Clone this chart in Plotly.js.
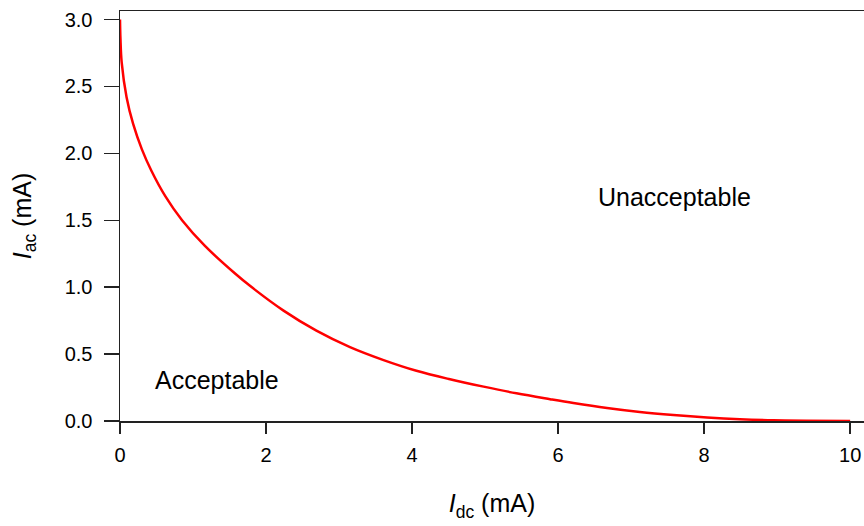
<!DOCTYPE html>
<html>
<head>
<meta charset="utf-8">
<script src="https://cdn.plot.ly/plotly-3.0.1.min.js"></script>
<style>html,body{margin:0;padding:0;background:#fff;}#chart{width:864px;height:526px;}</style>
</head>
<body>
<div id="chart"></div>
<script>
// Values
const idc = [0, 0.006, 0.023, 0.09, 0.18, 0.30, 0.43, 0.62, 0.85, 1.16, 1.58, 1.78, 2.24, 2.69, 3.15, 3.61, 4.06, 4.52, 4.98, 5.43, 5.89, 6.21, 6.67, 7.12, 7.58, 8.04, 8.49, 8.95, 9.40, 10];
const iac = [3.0, 2.86, 2.68, 2.42, 2.22, 2.03, 1.87, 1.68, 1.50, 1.31, 1.10, 1.01, 0.825, 0.675, 0.552, 0.455, 0.375, 0.312, 0.257, 0.207, 0.163, 0.134, 0.097, 0.067, 0.044, 0.026, 0.013, 0.005, 0.0015, 0.0];
const xTicks = [0, 2, 4, 6, 8, 10];
const yTicks = [0.0, 0.5, 1.0, 1.5, 2.0, 2.5, 3.0];
const regionLabels = ["Acceptable", "Unacceptable"];
const regionX = [1.33, 7.6];
const regionY = [0.307, 1.676];

const FONT = "Liberation Sans, Arial, sans-serif";
const trace = {
  x: idc, y: iac, type: "scatter", mode: "lines",
  line: {color: "#ff0000", width: 2.5, shape: "spline", smoothing: 1},
  hoverinfo: "skip", showlegend: false
};
const layout = {
  width: 864, height: 526,
  margin: {l: 120, r: 0, t: 11, b: 105, pad: 0},
  paper_bgcolor: "#fff", plot_bgcolor: "#fff",
  font: {family: FONT, color: "#000", size: 20},
  showlegend: false,
  xaxis: {
    range: [0, 10.19], tickvals: xTicks, ticktext: xTicks.map(String),
    ticks: "outside", ticklen: 11, tickwidth: 1.5, tickcolor: "#222",
    showline: true, linecolor: "#222", linewidth: 1.5, mirror: true,
    showgrid: false, zeroline: false, ticklabelstandoff: 4,
    tickfont: {family: FONT, size: 20, color: "#000"},
    title: {text: "<i>I</i><sub>dc</sub> (mA)", font: {family: FONT, size: 25, color: "#000"}, standoff: 30}
  },
  yaxis: {
    range: [0, 3.064], tickvals: yTicks, ticktext: yTicks.map(v => v.toFixed(1)),
    ticks: "outside", ticklen: 15, tickwidth: 1.5, tickcolor: "#222",
    showline: true, linecolor: "#222", linewidth: 1.5, mirror: false,
    showgrid: false, zeroline: false, ticklabelstandoff: 7,
    tickfont: {family: FONT, size: 20, color: "#000"},
    title: {text: "<i>I</i><sub>ac</sub> (mA)", font: {family: FONT, size: 25, color: "#000"}, standoff: 26}
  },
  annotations: regionLabels.map((t, i) => ({
    x: regionX[i], y: regionY[i], xref: "x", yref: "y", text: t, showarrow: false,
    font: {family: FONT, size: 25, color: "#000"}, xanchor: "center", yanchor: "middle"
  }))
};
Plotly.newPlot("chart", [trace], layout, {staticPlot: true, displayModeBar: false});
</script>
</body>
</html>
